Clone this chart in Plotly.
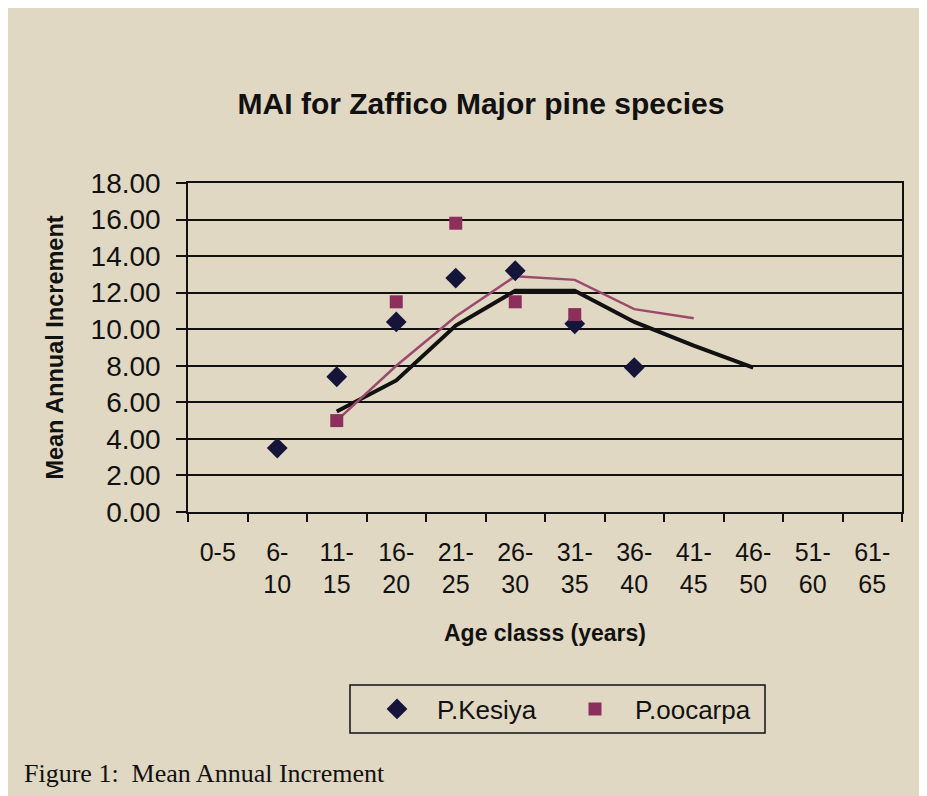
import plotly.graph_objects as go

age_classes = ["0-5", "6-<br>10", "11-<br>15", "16-<br>20", "21-<br>25", "26-<br>30",
               "31-<br>35", "36-<br>40", "41-<br>45", "46-<br>50", "51-<br>60", "61-<br>65"]

kesiya_mai = [None, 3.5, 7.4, 10.4, 12.8, 13.2, 10.3, 7.9, None, None, None, None]
oocarpa_mai = [None, None, 5.0, 11.5, 15.8, 11.5, 10.8, None, None, None, None, None]

kesiya_trend = [None, None, 5.5, 7.2, 10.2, 12.1, 12.1, 10.4, 9.1, 7.9, None, None]
oocarpa_trend = [None, None, 5.0, 8.0, 10.7, 12.9, 12.7, 11.1, 10.6, None, None, None]

paper = "#e0d8c3"
ink = "#111111"
navy = "#15153a"
plum = "#8c2f5c"
plum_line = "#9b4a6c"

W, H = 919, 788
L, R, T, B = 180, 894, 175, 504  # plot area in figure pixels
PW, PH = R - L, B - T


def px(x):
    return (x - L) / PW


def py(y):
    return (B - y) / PH


fig = go.Figure()
fig.add_trace(go.Scatter(x=age_classes, y=kesiya_trend, mode="lines",
                         line=dict(color=ink, width=4), showlegend=False, hoverinfo="skip"))
fig.add_trace(go.Scatter(x=age_classes, y=oocarpa_trend, mode="lines",
                         line=dict(color=plum_line, width=2.5), showlegend=False, hoverinfo="skip"))
fig.add_trace(go.Scatter(x=age_classes, y=kesiya_mai, mode="markers", name="P.Kesiya",
                         marker=dict(symbol="diamond", size=16, color=navy)))
fig.add_trace(go.Scatter(x=age_classes, y=oocarpa_mai, mode="markers", name="P.oocarpa",
                         marker=dict(symbol="square", size=13, color=plum)))

fig.update_layout(
    width=W, height=H,
    paper_bgcolor=paper, plot_bgcolor=paper,
    margin=dict(l=L, r=W - R, t=T, b=H - B),
    font=dict(family="Liberation Sans, Arial, sans-serif", color=ink),
    title=dict(text="<b>MAI for Zaffico Major pine species</b>",
               font=dict(size=30, color=ink), x=473 / W, xanchor="center",
               y=1 - 95 / H, yanchor="middle"),
    showlegend=True,
    legend=dict(orientation="h", x=px(349), xanchor="left",
                y=py(701), yanchor="middle",
                font=dict(size=26, color=ink), bgcolor="rgba(0,0,0,0)",
                itemwidth=70, entrywidth=113, entrywidthmode="pixels"),
    shapes=[
        dict(type="rect", xref="paper", yref="paper",
             x0=px(342), x1=px(757), y0=py(725), y1=py(677),
             line=dict(color=ink, width=1.5), fillcolor="rgba(0,0,0,0)"),
    ],
    annotations=[
        dict(text="Figure 1:  Mean Annual Increment", xref="paper", yref="paper",
             x=px(14), y=py(765), xanchor="left", yanchor="middle",
             showarrow=False, font=dict(family="Liberation Serif, Times New Roman, serif",
                                        size=26, color=ink)),
    ],
)

fig.update_xaxes(
    type="category", categoryorder="array", categoryarray=age_classes,
    range=[-0.5, 11.5],
    showline=True, linecolor=ink, linewidth=1.5, mirror=True,
    ticks="outside", ticklen=8, tickwidth=1.5, tickcolor=ink, tickson="boundaries",
    tickfont=dict(size=25, color=ink), ticklabelstandoff=17,
    showgrid=False,
    title=dict(text="<b>Age classs (years)</b>", font=dict(size=23, color=ink), standoff=28),
)
fig.update_yaxes(
    range=[0, 18], dtick=2, tickformat=".2f",
    showline=True, linecolor=ink, linewidth=1.5, mirror=True,
    ticks="outside", ticklen=10, tickwidth=1.5, tickcolor=ink,
    showgrid=True, gridcolor=ink, gridwidth=1.5, zeroline=False,
    tickfont=dict(size=28, color=ink), ticklabelstandoff=10,
    title=dict(text="<b>Mean Annual Increment</b>", font=dict(size=23.5, color=ink), standoff=20),
)

fig.write_html("out.html")
